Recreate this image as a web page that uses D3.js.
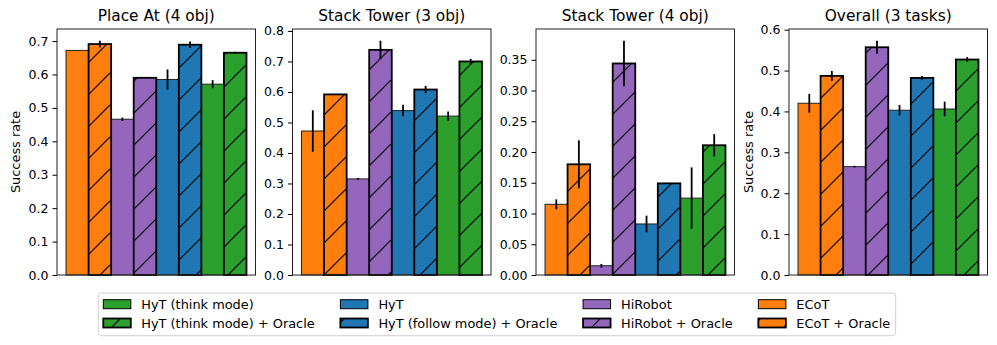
<!DOCTYPE html>
<html>
<head>
<meta charset="utf-8">
<script src="https://cdn.jsdelivr.net/npm/d3@7"></script>
<style>
  body { margin: 0; background: #fff; }
  svg { display: block; font-family: "DejaVu Sans", sans-serif; }
</style>
</head>
<body>
<svg id="chart"></svg>
<script>
const WIDTH = 997;
const HEIGHT = 345;

const tasks = ["Place At (4 obj)", "Stack Tower (3 obj)", "Stack Tower (4 obj)", "Overall (3 tasks)"];

// success rate per task, and half-length of error bar
const ecot = [0.672, 0.472, 0.115, 0.420];
const ecotErr = [0, 0.068, 0.008, 0.023];
const ecotOracle = [0.691, 0.592, 0.180, 0.487];
const ecotOracleErr = [0.010, 0, 0.039, 0.012];
const hirobot = [0.466, 0.315, 0.015, 0.265];
const hirobotErr = [0.005, 0.003, 0.003, 0.002];
const hirobotOracle = [0.590, 0.738, 0.344, 0.557];
const hirobotOracleErr = [0, 0.030, 0.037, 0.016];
const hyt = [0.585, 0.539, 0.083, 0.403];
const hytErr = [0.030, 0.019, 0.0135, 0.0126];
const hytFollowOracle = [0.689, 0.608, 0.149, 0.482];
const hytFollowOracleErr = [0.010, 0.012, 0.001, 0.005];
const hytThink = [0.571, 0.521, 0.125, 0.406];
const hytThinkErr = [0.012, 0.015, 0.050, 0.018];
const hytThinkOracle = [0.665, 0.700, 0.211, 0.527];
const hytThinkOracleErr = [0.003, 0.008, 0.018, 0.006];

const yTicks = [
    [0, 0.1, 0.2, 0.3, 0.4, 0.5, 0.6, 0.7],
    [0, 0.1, 0.2, 0.3, 0.4, 0.5, 0.6, 0.7, 0.8],
    [0, 0.05, 0.10, 0.15, 0.20, 0.25, 0.30, 0.35],
    [0, 0.1, 0.2, 0.3, 0.4, 0.5, 0.6]
];
const yTickFormat = [".1f", ".1f", ".2f", ".1f"];

// bar order inside each panel
const methods = [
    {name: "ECoT", values: ecot, err: ecotErr, color: "#ff7f0e", hatch: false},
    {name: "ECoT + Oracle", values: ecotOracle, err: ecotOracleErr, color: "#ff7f0e", hatch: true},
    {name: "HiRobot", values: hirobot, err: hirobotErr, color: "#9467bd", hatch: false},
    {name: "HiRobot + Oracle", values: hirobotOracle, err: hirobotOracleErr, color: "#9467bd", hatch: true},
    {name: "HyT", values: hyt, err: hytErr, color: "#1f77b4", hatch: false},
    {name: "HyT (follow mode) + Oracle", values: hytFollowOracle, err: hytFollowOracleErr, color: "#1f77b4", hatch: true},
    {name: "HyT (think mode)", values: hytThink, err: hytThinkErr, color: "#2ca02c", hatch: false},
    {name: "HyT (think mode) + Oracle", values: hytThinkOracle, err: hytThinkOracleErr, color: "#2ca02c", hatch: true}
];

// legend columns (top row, bottom row)
const legendOrder = [
    ["HyT (think mode)", "HyT (think mode) + Oracle"],
    ["HyT", "HyT (follow mode) + Oracle"],
    ["HiRobot", "HiRobot + Oracle"],
    ["ECoT", "ECoT + Oracle"]
];

const panelLeft = [57, 292.5, 536, 789];
const panelWidth = 198.5;
const panelTop = 29;
const panelBottom = 275;

const svg = d3.select("#chart")
    .attr("width", WIDTH)
    .attr("height", HEIGHT);

// one hatch pattern per colour, anchored to the page like matplotlib
const defs = svg.append("defs");
const colors = Array.from(new Set(methods.map(m => m.color)));
colors.forEach(c => {
    const p = defs.append("pattern")
        .attr("id", "hatch" + c.slice(1))
        .attr("patternUnits", "userSpaceOnUse")
        .attr("width", 32)
        .attr("height", 32)
        .attr("patternTransform", "translate(23,0)");
    p.append("rect").attr("width", 32).attr("height", 32).attr("fill", c);
    p.append("path")
        .attr("d", "M-2,34 L34,-2 M-18,18 L18,-18 M14,50 L50,14")
        .attr("stroke", "#000")
        .attr("stroke-width", 1.2)
        .attr("fill", "none");
});

const fillOf = m => m.hatch ? `url(#hatch${m.color.slice(1)})` : m.color;

tasks.forEach((task, t) => {
    const left = panelLeft[t];
    const g = svg.append("g");

    const maxVal = d3.max(methods, m => m.values[t] + m.err[t]);
    const y = d3.scaleLinear()
        .domain([0, maxVal * 1.05])
        .range([panelBottom, panelTop]);
    const x = d3.scaleBand()
        .domain(methods.map(m => m.name))
        .range([left, left + panelWidth])
        .paddingInner(0)
        .paddingOuter(0.4);

    // plain bars first, hatched on top so their heavier edges show
    const order = methods.filter(m => !m.hatch).concat(methods.filter(m => m.hatch));
    g.selectAll("rect.bar")
        .data(order)
        .enter()
        .append("rect")
        .attr("class", "bar")
        .attr("x", m => x(m.name))
        .attr("y", m => y(m.values[t]))
        .attr("width", x.bandwidth())
        .attr("height", m => y(0) - y(m.values[t]))
        .attr("fill", fillOf)
        .attr("stroke", m => m.hatch ? "#000" : "#222")
        .attr("stroke-width", m => m.hatch ? 1.8 : 1);

    g.selectAll("line.err")
        .data(methods.filter(m => m.err[t] > 0))
        .enter()
        .append("line")
        .attr("class", "err")
        .attr("x1", m => x(m.name) + x.bandwidth() / 2)
        .attr("x2", m => x(m.name) + x.bandwidth() / 2)
        .attr("y1", m => y(m.values[t] - m.err[t]))
        .attr("y2", m => y(m.values[t] + m.err[t]))
        .attr("stroke", "#000")
        .attr("stroke-width", 1.8);

    // frame
    g.append("rect")
        .attr("x", left)
        .attr("y", panelTop)
        .attr("width", panelWidth)
        .attr("height", panelBottom - panelTop)
        .attr("fill", "none")
        .attr("stroke", "#222")
        .attr("stroke-width", 1);

    const yAxis = g.append("g")
        .attr("transform", `translate(${left},0)`)
        .call(d3.axisLeft(y)
            .tickValues(yTicks[t])
            .tickFormat(d3.format(yTickFormat[t]))
            .tickSize(4.5)
            .tickPadding(4));
    yAxis.select(".domain").remove();
    yAxis.selectAll(".tick line").attr("stroke", "#000").attr("stroke-width", 1);
    yAxis.selectAll(".tick text")
        .attr("fill", "#000")
        .style("font-family", "DejaVu Sans")
        .style("font-size", "12.5px");

    g.append("text")
        .attr("x", left + panelWidth / 2)
        .attr("y", 21)
        .attr("text-anchor", "middle")
        .style("font-size", "15.4px")
        .text(task);

    if (t === 0 || t === 3) {
        const lx = t === 0 ? 19.5 : 752.8;
        g.append("text")
            .attr("transform", `translate(${lx},${(panelTop + panelBottom) / 2}) rotate(-90)`)
            .attr("text-anchor", "middle")
            .style("font-size", "12.9px")
            .text("Success rate");
    }
});

// legend
const legend = svg.append("g");
const box = legend.append("rect");
const byName = new Map(methods.map(m => [m.name, m]));
const rowY = [304.2, 323];
const handleW = 27.5, handleH = 9, textGap = 10.5, colGap = 25.7;
let cx = 103.3;
legendOrder.forEach(col => {
    let maxW = 0;
    col.forEach((name, r) => {
        const m = byName.get(name);
        legend.append("rect")
            .attr("x", cx)
            .attr("y", rowY[r] - handleH / 2)
            .attr("width", handleW)
            .attr("height", handleH)
            .attr("fill", fillOf(m))
            .attr("stroke", "#000")
            .attr("stroke-width", m.hatch ? 1.8 : 1);
        const txt = legend.append("text")
            .attr("x", cx + handleW + textGap)
            .attr("y", rowY[r])
            .attr("dy", "0.36em")
            .style("font-size", "12.9px")
            .text(name);
        maxW = Math.max(maxW, txt.node().getComputedTextLength());
    });
    cx += handleW + textGap + maxW + colGap;
});
const boxRight = cx - colGap + 5.4;
box.attr("x", 98.3)
    .attr("y", 293)
    .attr("width", boxRight - 98.3)
    .attr("height", 42.7)
    .attr("rx", 3)
    .attr("fill", "#fff")
    .attr("stroke", "#d0d0d0")
    .attr("stroke-width", 1);
</script>
</body>
</html>
